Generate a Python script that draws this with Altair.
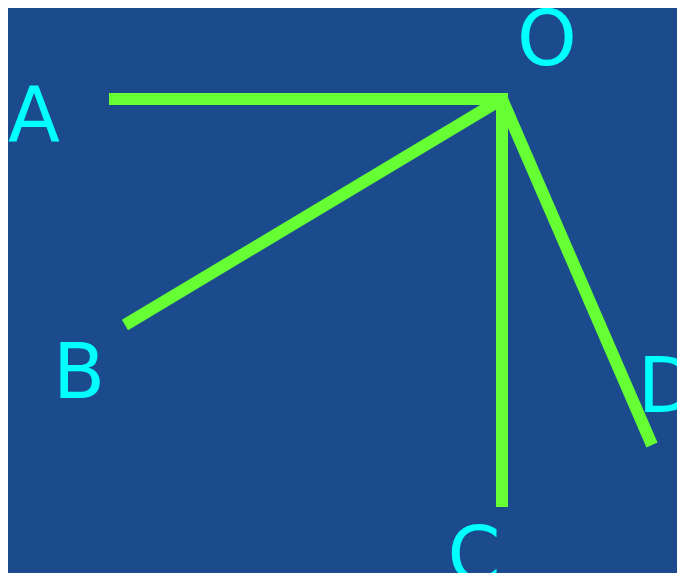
import altair as alt
import pandas as pd

# Segment endpoints (reference pixel coordinates)
seg_names = ["A", "B", "C", "D"]
origin_x = 502
origin_y = 99
end_x = [109, 125, 502, 652]
end_y = [99, 325, 507, 445]

# Labels
label_text = ["O", "A", "B", "C", "D"]
label_x = [547, 34, 79, 474, 667]
label_y = [65, 141, 398, 581, 412]

segs = pd.DataFrame({
    "name": seg_names,
    "x": [origin_x] * len(seg_names),
    "y": [origin_y] * len(seg_names),
    "x2": end_x,
    "y2": end_y,
})
labels = pd.DataFrame({"t": label_text, "x": label_x, "y": label_y})

# page has an 8px margin; keep chart inside the window (no scrollbars)
W, H = 669, 565
xs = alt.Scale(domain=[8, 8 + W], nice=False, zero=False)
ys = alt.Scale(domain=[8, 8 + H], nice=False, zero=False, reverse=True)

lines = alt.Chart(segs).mark_rule(
    color="#66ff33", strokeWidth=12, strokeCap="butt"
).encode(
    x=alt.X("x:Q", scale=xs, axis=None),
    y=alt.Y("y:Q", scale=ys, axis=None),
    x2="x2:Q",
    y2="y2:Q",
)

# small joint cap at the vertex O so the lines meet cleanly
joint = alt.Chart(pd.DataFrame({"x": [origin_x], "y": [origin_y]})).mark_point(
    shape="square", filled=True, color="#66ff33", opacity=1, size=144
).encode(
    x=alt.X("x:Q", scale=xs, axis=None),
    y=alt.Y("y:Q", scale=ys, axis=None),
)

text = alt.Chart(labels).mark_text(
    color="#00ffff", font="DejaVu Sans", fontSize=76,
    align="center", baseline="alphabetic"
).encode(
    x=alt.X("x:Q", scale=xs, axis=None),
    y=alt.Y("y:Q", scale=ys, axis=None),
    text="t:N",
)

chart = alt.layer(lines, joint, text).properties(
    width=W, height=H, padding=0,
    autosize=alt.AutoSizeParams(type="none"),
    background="#1b4b8c",
).configure_view(stroke=None, fill="#1b4b8c")

chart.save("out.html", embed_options={"renderer": "svg", "actions": False})
